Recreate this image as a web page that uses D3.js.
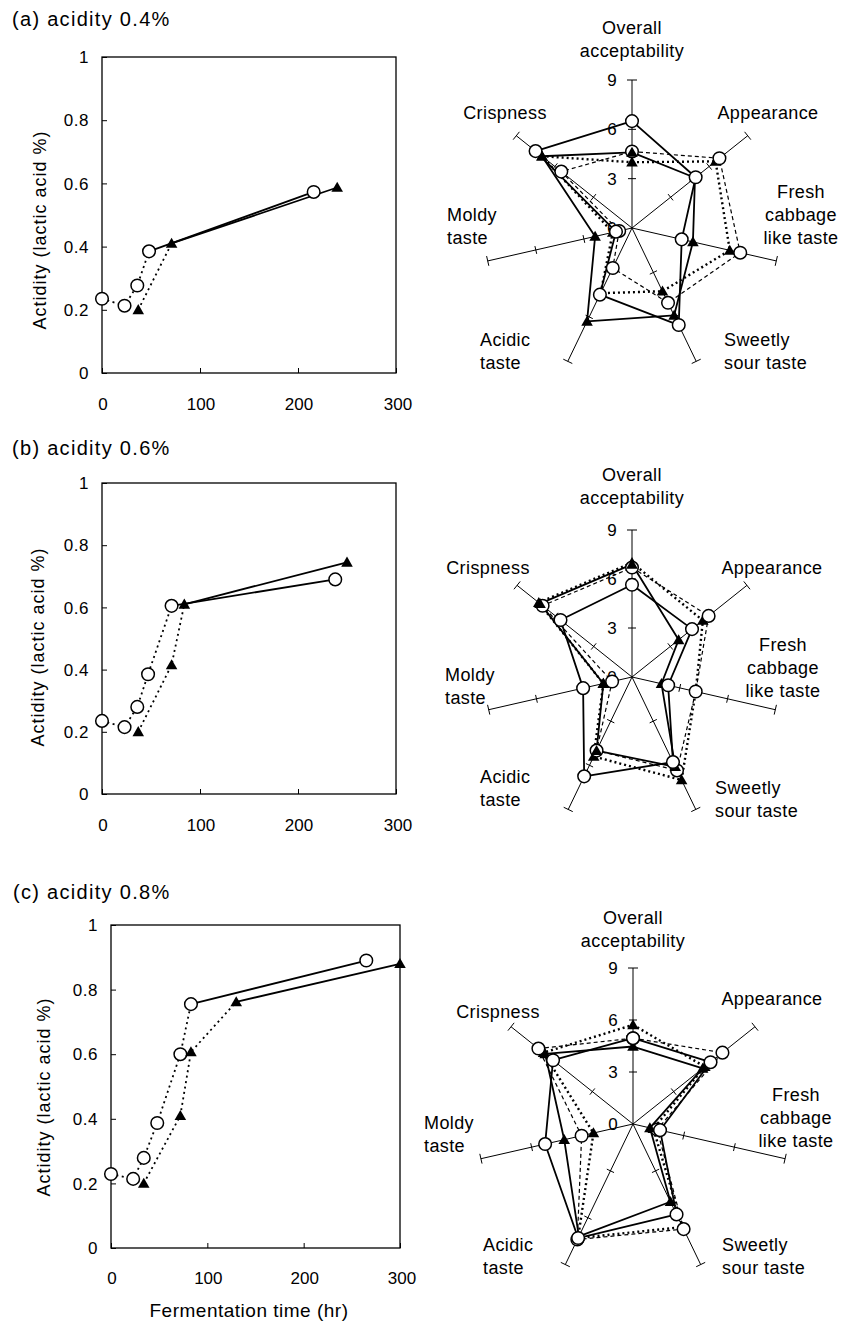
<!DOCTYPE html>
<html><head><meta charset="utf-8">
<script src="https://cdn.jsdelivr.net/npm/d3@7"></script>
<style>
html,body{margin:0;padding:0;background:#fff;}
svg{display:block;font-family:"Liberation Sans",Arial,sans-serif;}
</style></head><body>
<svg id="chart" width="842" height="1323"></svg>
<script>
// ---------------- DATA ----------------
const panelTitles = ["(a) acidity 0.4%", "(b) acidity 0.6%", "(c) acidity 0.8%"];
const timeTicks = [0, 100, 200, 300];
const acidTicks = [0, 0.2, 0.4, 0.6, 0.8, 1];
const radarTicks = [0, 3, 6, 9];
const attributes = [["Overall", "acceptability"], ["Appearance"], ["Fresh", "cabbage", "like taste"],
  ["Sweetly", "sour taste"], ["Acidic", "taste"], ["Moldy", "taste"], ["Crispness"]];
const yAxisTitle = "Actidity (lactic acid %)";
const xAxisTitle = "Fermentation time (hr)";

// fermentation curves (time in hr, acidity in lactic acid %)
const circleTimeA = [0, 23, 36, 48, 216];
const circleAcidA = [0.235, 0.213, 0.277, 0.385, 0.573];
const triTimeA = [37, 71, 240];
const triAcidA = [0.20, 0.41, 0.587];

const circleTimeB = [0, 23, 36, 47, 71, 238];
const circleAcidB = [0.235, 0.215, 0.28, 0.385, 0.605, 0.69];
const triTimeB = [37, 71, 84, 250];
const triAcidB = [0.20, 0.415, 0.61, 0.745];

const circleTimeC = [0, 23, 34, 48, 72, 83, 265];
const circleAcidC = [0.229, 0.214, 0.279, 0.387, 0.60, 0.755, 0.89];
const triTimeC = [34, 72, 83, 130, 300];
const triAcidC = [0.20, 0.41, 0.607, 0.762, 0.88];

// index of first point of the final (solid) stage
const circleFinalFrom = [3, 4, 5];
const triFinalFrom = [1, 2, 3];

// sensory scores: Overall, Appearance, Fresh, Sweetly sour, Acidic, Moldy, Crispness
const radarA_circleSolid = [6.5, 4.95, 3.1, 6.55, 4.5, 1.0, 7.5];
const radarA_triSolid    = [4.6, 4.9, 3.8, 5.9, 6.3, 2.3, 7.0];
const radarA_circleDash  = [4.65, 6.8, 6.75, 5.05, 2.7, 0.8, 5.5];
const radarA_triDot      = [4.0, 6.5, 6.1, 4.27, 4.4, 1.2, 7.0];

const radarB_circleSolid = [5.65, 4.7, 2.27, 5.78, 6.75, 3.07, 5.6];
const radarB_triSolid    = [6.9, 3.65, 1.85, 6.1, 5.0, 1.8, 7.2];
const radarB_circleDash  = [6.7, 6.0, 4.0, 6.35, 5.0, 1.25, 7.0];
const radarB_triDot      = [7.0, 5.55, 4.0, 7.0, 5.4, 1.8, 7.3];

const radarC_circleSolid = [4.95, 5.72, 1.6, 5.79, 7.3, 5.2, 5.9];
const radarC_triSolid    = [4.47, 5.14, 1.0, 4.98, 7.2, 4.07, 6.48];
const radarC_circleDash  = [4.95, 6.6, 1.43, 6.73, 7.4, 3.04, 6.98];
const radarC_triDot      = [5.72, 5.3, 1.2, 6.6, 7.3, 2.34, 6.6];

// ---------------- ASSEMBLY ----------------
const curves = [
  {ct: circleTimeA, ca: circleAcidA, tt: triTimeA, ta: triAcidA},
  {ct: circleTimeB, ca: circleAcidB, tt: triTimeB, ta: triAcidB},
  {ct: circleTimeC, ca: circleAcidC, tt: triTimeC, ta: triAcidC}
];
const radars = [
  [radarA_circleSolid, radarA_triSolid, radarA_circleDash, radarA_triDot],
  [radarB_circleSolid, radarB_triSolid, radarB_circleDash, radarB_triDot],
  [radarC_circleSolid, radarC_triSolid, radarC_circleDash, radarC_triDot]
];
const seriesStyle = [
  {marker: "circle", width: 1.8, dash: null},
  {marker: "tri", width: 1.8, dash: null},
  {marker: "circle", width: 1.2, dash: "4,3"},
  {marker: "tri", width: 2.4, dash: "2,3"}
];

// ---------------- LAYOUT ----------------
const layout = [
  {title: [12, 26], box: [102, 396, 57, 373], ylab: [46, 230], xlabBase: 410,
   radar: [632, 228, 148],
   lab: [[0, -200, "middle"], [136, -115, "middle"], [169, -36, "middle"], [92, 112, "start"],
         [-152, 112, "start"], [-185, -13, "start"], [-127, -115, "middle"]]},
  {title: [12, 455], box: [102, 396, 483, 794], ylab: [44, 647], xlabBase: 831,
   radar: [632, 677, 147],
   lab: [[0, -202, "middle"], [140, -109, "middle"], [151, -32, "middle"], [83, 111, "start"],
         [-152, 100, "start"], [-187, -2, "start"], [-144, -109, "middle"]]},
  {title: [13, 899], box: [111, 400, 925, 1248], ylab: [50, 1097], xlabBase: 1284,
   radar: [633, 1124, 156],
   lab: [[0, -206, "middle"], [139, -125, "middle"], [163, -29, "middle"], [89, 121, "start"],
         [-150, 121, "start"], [-209, -1, "start"], [-135, -112, "middle"]]}
];

const svg = d3.select("#chart");
const tri = d3.symbol().type(d3.symbolTriangle).size(58);

function drawMarker(g, kind, x, y) {
  if (kind === "circle") {
    g.append("circle").attr("cx", x).attr("cy", y).attr("r", 6.3)
      .attr("fill", "#fff").attr("stroke", "#000").attr("stroke-width", 1.5);
  } else {
    g.append("path").attr("d", tri).attr("transform", `translate(${x},${y + 1})`).attr("fill", "#000");
  }
}

layout.forEach((L, p) => {
  const g = svg.append("g");
  // title
  g.append("text").attr("x", L.title[0]).attr("y", L.title[1])
    .attr("font-size", 20).attr("letter-spacing", 1.3).text(panelTitles[p]);

  // ---- line chart ----
  const [x0, x1, y0, y1] = L.box;
  const x = d3.scaleLinear().domain([0, 300]).range([x0, x1]);
  const y = d3.scaleLinear().domain([0, 1]).range([y1, y0]);
  g.append("rect").attr("x", x0).attr("y", y0).attr("width", x1 - x0).attr("height", y1 - y0)
    .attr("fill", "none").attr("stroke", "#000").attr("stroke-width", 1.3);
  const yAx = g.append("g").attr("transform", `translate(${x0},0)`)
    .call(d3.axisRight(y).tickValues(acidTicks).tickSize(5).tickFormat(""));
  yAx.select(".domain").remove();
  yAx.selectAll("line").attr("stroke-width", 1);
  const xAx = g.append("g").attr("transform", `translate(0,${y1})`)
    .call(d3.axisTop(x).tickValues(timeTicks).tickSize(5).tickFormat(""));
  xAx.select(".domain").remove();
  g.selectAll(null).data(acidTicks).join("text")
    .attr("x", x0 - 13).attr("y", d => y(d)).attr("dy", "0.36em")
    .attr("text-anchor", "end").attr("font-size", 17).attr("letter-spacing", 0.5)
    .text(d3.format("~g"));
  g.selectAll(null).data(timeTicks).join("text")
    .attr("x", d => x(d) + (d === 300 ? 2 : 1)).attr("y", L.xlabBase)
    .attr("text-anchor", "middle").attr("font-size", 17)
    .text(d => d);
  g.append("text").attr("transform", `translate(${L.ylab[0]},${L.ylab[1]}) rotate(-90)`)
    .attr("text-anchor", "middle").attr("font-size", 18).attr("letter-spacing", 1)
    .text(yAxisTitle);
  if (p === 2) {
    g.append("text").attr("x", 249).attr("y", 1317).attr("text-anchor", "middle")
      .attr("font-size", 19).attr("letter-spacing", 0.5).text(xAxisTitle);
  }

  const C = curves[p];
  const line = d3.line().x(d => x(d[0])).y(d => y(d[1]));
  const sets = [
    {pts: C.ct.map((t, i) => [t, C.ca[i]]), from: circleFinalFrom[p], kind: "circle"},
    {pts: C.tt.map((t, i) => [t, C.ta[i]]), from: triFinalFrom[p], kind: "tri"}
  ];
  sets.forEach(s => {
    g.append("path").attr("d", line(s.pts.slice(0, s.from + 1))).attr("fill", "none")
      .attr("stroke", "#000").attr("stroke-width", 1.8).attr("stroke-dasharray", "2,3.5");
    g.append("path").attr("d", line(s.pts.slice(s.from))).attr("fill", "none")
      .attr("stroke", "#000").attr("stroke-width", 1.8);
  });
  sets.forEach(s => s.pts.forEach(d => drawMarker(g, s.kind, x(d[0]), y(d[1]))));

  // ---- radar ----
  const [cx, cy, R] = L.radar;
  const r = d3.scaleLinear().domain([0, 9]).range([0, R]);
  const n = attributes.length;
  const ang = i => i * 2 * Math.PI / n;
  const px = (i, v) => cx + Math.sin(ang(i)) * r(v);
  const py = (i, v) => cy - Math.cos(ang(i)) * r(v);
  const rg = svg.append("g");
  attributes.forEach((a, i) => {
    rg.append("line").attr("x1", cx).attr("y1", cy).attr("x2", px(i, 9)).attr("y2", py(i, 9))
      .attr("stroke", "#000").attr("stroke-width", 1);
    radarTicks.filter(t => t > 0).forEach(t => {
      const h = t === 9 ? 5 : 4;
      const nx = Math.cos(ang(i)), ny = Math.sin(ang(i));
      rg.append("line").attr("x1", px(i, t) - nx * h).attr("y1", py(i, t) - ny * h)
        .attr("x2", px(i, t) + nx * h).attr("y2", py(i, t) + ny * h)
        .attr("stroke", "#000").attr("stroke-width", 1);
    });
    const [dx, dy, anchor] = L.lab[i];
    const t = rg.append("text").attr("font-size", 18).attr("letter-spacing", 0.4)
      .attr("text-anchor", anchor);
    a.forEach((s, k) => t.append("tspan").attr("x", cx + dx).attr("y", cy + dy + k * 23)
      .attr("dy", "0.36em").text(s));
  });
  rg.selectAll(null).data(radarTicks).join("text")
    .attr("x", cx - 20).attr("y", d => cy - r(d)).attr("dy", "0.36em")
    .attr("text-anchor", "middle").attr("font-size", 17).text(d => d);

  const rl = d3.line().x(d => px(d[0], d[1])).y(d => py(d[0], d[1])).curve(d3.curveLinearClosed);
  radars[p].forEach((vals, s) => {
    const st = seriesStyle[s];
    rg.append("path").attr("d", rl(vals.map((v, i) => [i, v]))).attr("fill", "none")
      .attr("stroke", "#000").attr("stroke-width", st.width)
      .attr("stroke-dasharray", st.dash).attr("stroke-linejoin", "round");
  });
  [3, 2, 1, 0].forEach(s => {
    radars[p][s].forEach((v, i) => drawMarker(rg, seriesStyle[s].marker, px(i, v), py(i, v)));
  });
});
</script>
</body></html>
